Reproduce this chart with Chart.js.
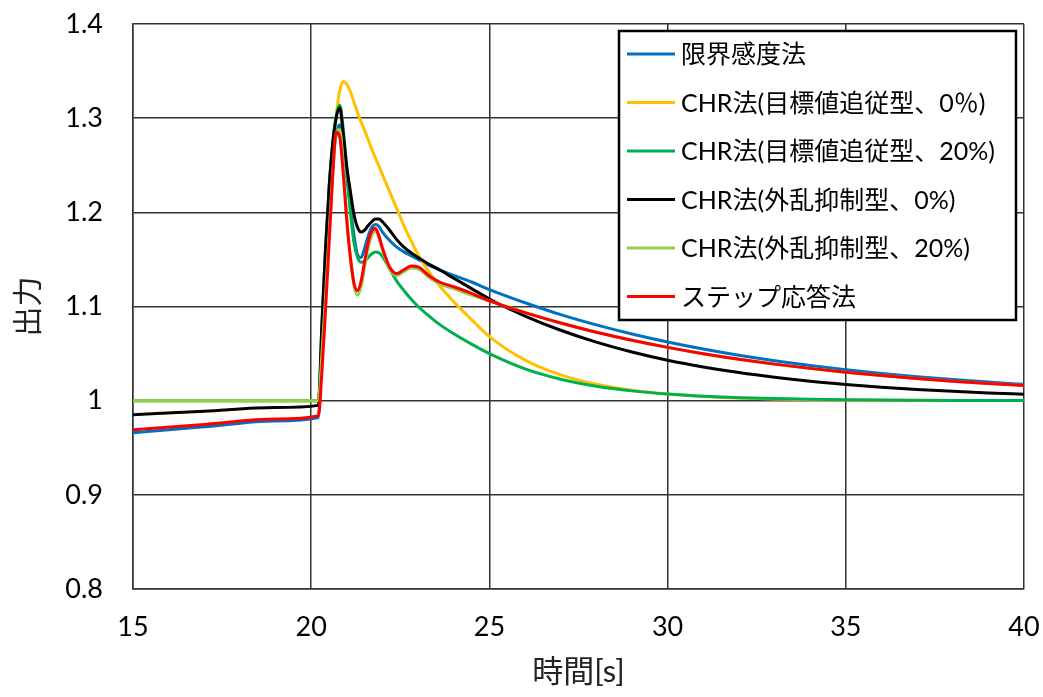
<!DOCTYPE html>
<html>
<head>
<meta charset="utf-8">
<script src="https://cdn.jsdelivr.net/npm/chart.js@4/dist/chart.umd.min.js"></script>
<style>
    html, body { margin: 0; padding: 0; background: #fff; }
    #wrap { width: 1043px; height: 697px; }
</style>
</head>
<body>
<div id="wrap"><canvas id="respChart" width="1043" height="697"></canvas></div>
<script>
// time axis [s]
const time = [15, 17, 19, 20.2, 20.3, 20.4, 20.5, 20.6, 20.7, 20.8, 20.9, 21.0, 21.1, 21.2, 21.3, 21.4, 21.5, 21.6, 21.7, 21.8, 21.9, 22.0,
    22.2, 22.4, 22.6, 22.8, 23.0, 23.3, 23.6, 24.0, 24.5, 25, 26, 27, 28, 29, 30, 31, 32, 33, 34, 35, 36, 37, 38, 39, 40];

const seriesNames = ["限界感度法", "CHR法(目標値追従型、0％)", "CHR法(目標値追従型、20%)", "CHR法(外乱抑制型、0%)", "CHR法(外乱抑制型、20%)", "ステップ応答法"];
const seriesColors = ["#0070C0", "#FFC000", "#00B050", "#000000", "#92D050", "#FF0000"];

const genkai = [0.966, 0.9722, 0.9783, 0.982, 1.06, 1.14, 1.205, 1.252, 1.283, 1.293, 1.27, 1.235, 1.205, 1.176, 1.155, 1.152, 1.162, 1.175, 1.184, 1.187, 1.185, 1.179,
    1.170, 1.163, 1.158, 1.154, 1.150, 1.144, 1.139, 1.133, 1.126, 1.118, 1.104, 1.0914, 1.0805, 1.0708, 1.0623, 1.0548, 1.0482, 1.0424, 1.0373, 1.0329, 1.0289, 1.0254, 1.0224, 1.0197, 1.0173];
const chrTrack0 = [1.0, 1.0, 1.0, 1.0, 1.06, 1.14, 1.21, 1.262, 1.302, 1.329, 1.339, 1.336, 1.328, 1.317, 1.306, 1.296, 1.287, 1.277, 1.267, 1.258, 1.249, 1.240,
    1.222, 1.204, 1.186, 1.170, 1.155, 1.137, 1.122, 1.105, 1.086, 1.068, 1.043, 1.0274, 1.0174, 1.011, 1.007, 1.0044, 1.0028, 1.0018, 1.0011, 1.0007, 1.0004, 1.0003, 1.0002, 1.0001, 1.0001];
const chrTrack20 = [1.0, 1.0, 1.0, 1.0, 1.08, 1.16, 1.225, 1.272, 1.302, 1.314, 1.288, 1.245, 1.2, 1.168, 1.152, 1.147, 1.148, 1.152, 1.156, 1.158, 1.157, 1.153,
    1.14, 1.127, 1.117, 1.108, 1.100, 1.090, 1.081, 1.071, 1.060, 1.050, 1.0338, 1.0228, 1.0154, 1.0104, 1.0070, 1.0047, 1.0032, 1.0022, 1.0015, 1.0010, 1.0007, 1.0005, 1.0003, 1.0002, 1.0001];
const chrDist0 = [0.985, 0.9888, 0.9927, 0.995, 1.08, 1.16, 1.225, 1.272, 1.300, 1.311, 1.283, 1.248, 1.222, 1.198, 1.184, 1.179, 1.181, 1.186, 1.190, 1.193, 1.193, 1.190,
    1.181, 1.171, 1.163, 1.157, 1.152, 1.145, 1.139, 1.130, 1.119, 1.108, 1.0899, 1.0748, 1.0622, 1.0517, 1.0430, 1.0358, 1.0298, 1.0248, 1.0206, 1.0172, 1.0143, 1.0119, 1.0099, 1.0082, 1.0068];
const chrDist20 = [1.0, 1.0, 1.0, 1.0, 1.05, 1.11, 1.175, 1.24, 1.284, 1.288, 1.25, 1.195, 1.152, 1.122, 1.112, 1.121, 1.142, 1.162, 1.176, 1.180, 1.173, 1.160,
    1.140, 1.133, 1.137, 1.141, 1.140, 1.131, 1.124, 1.119, 1.112, 1.106, 1.0935, 1.0825, 1.0727, 1.0642, 1.0566, 1.0499, 1.0440, 1.0388, 1.0343, 1.0302, 1.0267, 1.0235, 1.0207, 1.0183, 1.0162];
const stepResp = [0.969, 0.9748, 0.9805, 0.984, 1.03, 1.095, 1.165, 1.236, 1.285, 1.280, 1.24, 1.19, 1.152, 1.125, 1.117, 1.127, 1.148, 1.168, 1.180, 1.183, 1.175, 1.162,
    1.142, 1.135, 1.139, 1.143, 1.142, 1.133, 1.126, 1.121, 1.114, 1.106, 1.0935, 1.0825, 1.0727, 1.0642, 1.0566, 1.0499, 1.0440, 1.0388, 1.0343, 1.0302, 1.0267, 1.0235, 1.0207, 1.0183, 1.0162];

const allSeries = [genkai, chrTrack0, chrTrack20, chrDist0, chrDist20, stepResp];

const FONT = "Lato, 'Noto Sans CJK JP', sans-serif";
const GRID = "#333333";

// legend drawn inside the plot, like the Excel box
const boxLegend = {
    id: "boxLegend",
    afterDraw(chart) {
        const ctx = chart.ctx;
        const area = chart.chartArea;
        const x0 = area.right - 405, y0 = area.top + 7, w = 397, h = 289;
        ctx.save();
        ctx.fillStyle = "#fff";
        ctx.fillRect(x0, y0, w, h);
        ctx.lineWidth = 2.5;
        ctx.strokeStyle = "#000";
        ctx.strokeRect(x0, y0, w, h);
        ctx.font = "25px " + FONT;
        ctx.textBaseline = "middle";
        ctx.fillStyle = "#000";
        chart.data.datasets.forEach((ds, i) => {
            const cy = y0 + 23 + i * 48.5;
            ctx.strokeStyle = ds.borderColor;
            ctx.lineWidth = 3;
            ctx.beginPath();
            ctx.moveTo(x0 + 8, cy);
            ctx.lineTo(x0 + 56, cy);
            ctx.stroke();
            ctx.fillText(ds.label, x0 + 62, cy + 1);
        });
        ctx.restore();
    },
};

const ctx = document.getElementById("respChart").getContext("2d");
new Chart(ctx, {
    type: "line",
    data: {
        datasets: allSeries.map((vals, i) => ({
            label: seriesNames[i],
            data: time.map((t, k) => ({ x: t, y: vals[k] })),
            borderColor: seriesColors[i],
            backgroundColor: seriesColors[i],
            borderWidth: 3,
            pointRadius: 0,
            cubicInterpolationMode: "monotone",
            fill: false,
            order: allSeries.length - i, // last series on top
        })),
    },
    plugins: [boxLegend],
    options: {
        responsive: false,
        animation: false,
        layout: { padding: { left: 0, right: 19, top: 24, bottom: 0 } },
        plugins: {
            legend: { display: false },
            tooltip: { enabled: false },
        },
        scales: {
            x: {
                type: "linear",
                min: 15,
                max: 40,
                ticks: { stepSize: 5, color: "#000", padding: 22, font: { family: FONT, size: 27 } },
                grid: { color: GRID, lineWidth: 1.5, drawTicks: false },
                border: { color: GRID, width: 1.5 },
                title: { display: true, text: "時間[s]", color: "#222", font: { family: FONT, size: 31 }, padding: { top: 0, bottom: 6 } },
                afterFit(scale) {
                    scale.height = 108;
                    scale.paddingLeft = 0;
                    scale.paddingRight = 0;
                },
            },
            y: {
                min: 0.8,
                max: 1.4,
                ticks: {
                    stepSize: 0.1,
                    color: "#000",
                    padding: 30,
                    font: { family: FONT, size: 27 },
                    callback: (v) => String(Number(v.toFixed(1))),
                },
                grid: { color: GRID, lineWidth: 1.5, drawTicks: false },
                border: { color: GRID, width: 1.5 },
                title: { display: true, text: "出力", color: "#222", font: { family: FONT, size: 30 }, padding: { top: 10, bottom: 0 } },
                afterFit(scale) {
                    scale.width = 133;
                    scale.paddingTop = 0;
                    scale.paddingBottom = 0;
                },
            },
        },
    },
});
</script>
</body>
</html>
